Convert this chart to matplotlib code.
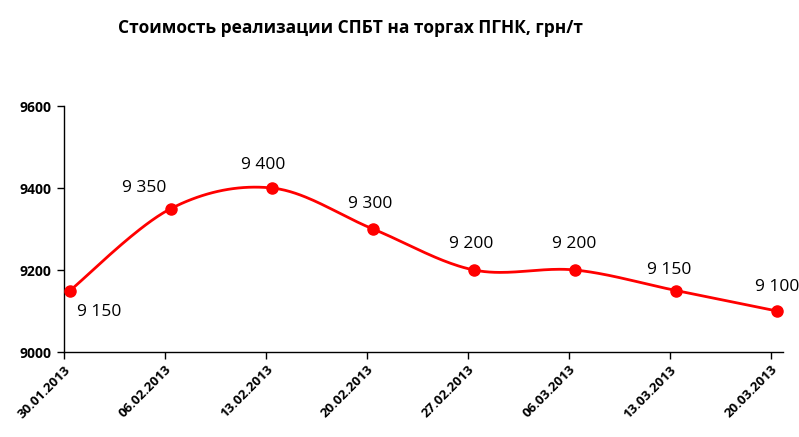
import numpy as np
import matplotlib
matplotlib.use("Agg")
import matplotlib.pyplot as plt

dates = ["30.01.2013", "06.02.2013", "13.02.2013", "20.02.2013",
         "27.02.2013", "06.03.2013", "13.03.2013", "20.03.2013"]
prices = [9150, 9350, 9400, 9300, 9200, 9200, 9150, 9100]
labels = ["9 150", "9 350", "9 400", "9 300", "9 200", "9 200", "9 150", "9 100"]
yticks = [9000, 9200, 9400, 9600]

label_offsets = [(29, -21), (-27, 20), (-9, 23), (-3, 25), (-3, 26), (-1, 26), (-7, 20), (0, 24)]

FONT = ["Open Sans", "DejaVu Sans"]
plt.rcParams['font.family'] = FONT

fig = plt.figure(figsize=(7.99, 4.37), dpi=100)
ax = fig.add_axes([64/799, 1-352/437, (783-64)/799, (352-106)/437])

shift = 0.06
x = np.arange(len(prices)) + shift
y = np.array(prices, dtype=float)

# Excel-like smoothing (Catmull-Rom / Bezier with 1/6 control points)
xs, ys = [], []
n = len(x)
for i in range(n - 1):
    p0 = np.array([x[max(i-1, 0)], y[max(i-1, 0)]])
    p1 = np.array([x[i], y[i]])
    p2 = np.array([x[i+1], y[i+1]])
    p3 = np.array([x[min(i+2, n-1)], y[min(i+2, n-1)]])
    c1 = p1 + (p2 - p0) / 6.0
    c2 = p2 - (p3 - p1) / 6.0
    t = np.linspace(0, 1, 40)[:, None]
    pts = (1-t)**3*p1 + 3*(1-t)**2*t*c1 + 3*(1-t)*t**2*c2 + t**3*p2
    xs.extend(pts[:, 0]); ys.extend(pts[:, 1])

ax.plot(xs, ys, color="#ff0000", lw=2, zorder=3)
ax.plot(x, y, "o", color="#ff0000", ms=8, zorder=4)

for xi, yi, lab, off in zip(x, y, labels, label_offsets):
    ax.annotate(lab, (xi, yi), xytext=off, textcoords="offset pixels",
                ha="center", va="center", fontsize=12.5, color="black")

ax.set_ylim(9000, 9600)
ax.set_yticks(yticks)
ax.set_yticklabels([str(v) for v in yticks], fontsize=10, fontweight="bold")
ax.set_xlim(0, 7.12)
ax.set_xticks(np.arange(len(dates)))
ax.set_xticklabels(dates, rotation=45, ha="right", va="top", rotation_mode="anchor",
                   fontsize=9.5, fontweight="bold")

for s in ["top", "right"]:
    ax.spines[s].set_visible(False)
for s in ["left", "bottom"]:
    ax.spines[s].set_color("black")
    ax.spines[s].set_linewidth(1)
ax.tick_params(axis="both", direction="out", length=5, width=1, colors="black")
ax.tick_params(axis="y", pad=4)
ax.tick_params(axis="x", pad=3)

fig.text(350/799, 1-28/437, "Стоимость реализации СПБТ на торгах ПГНК, грн/т",
         ha="center", va="center", fontsize=12.5, fontweight="bold")

fig.savefig("out.png", dpi=100)
